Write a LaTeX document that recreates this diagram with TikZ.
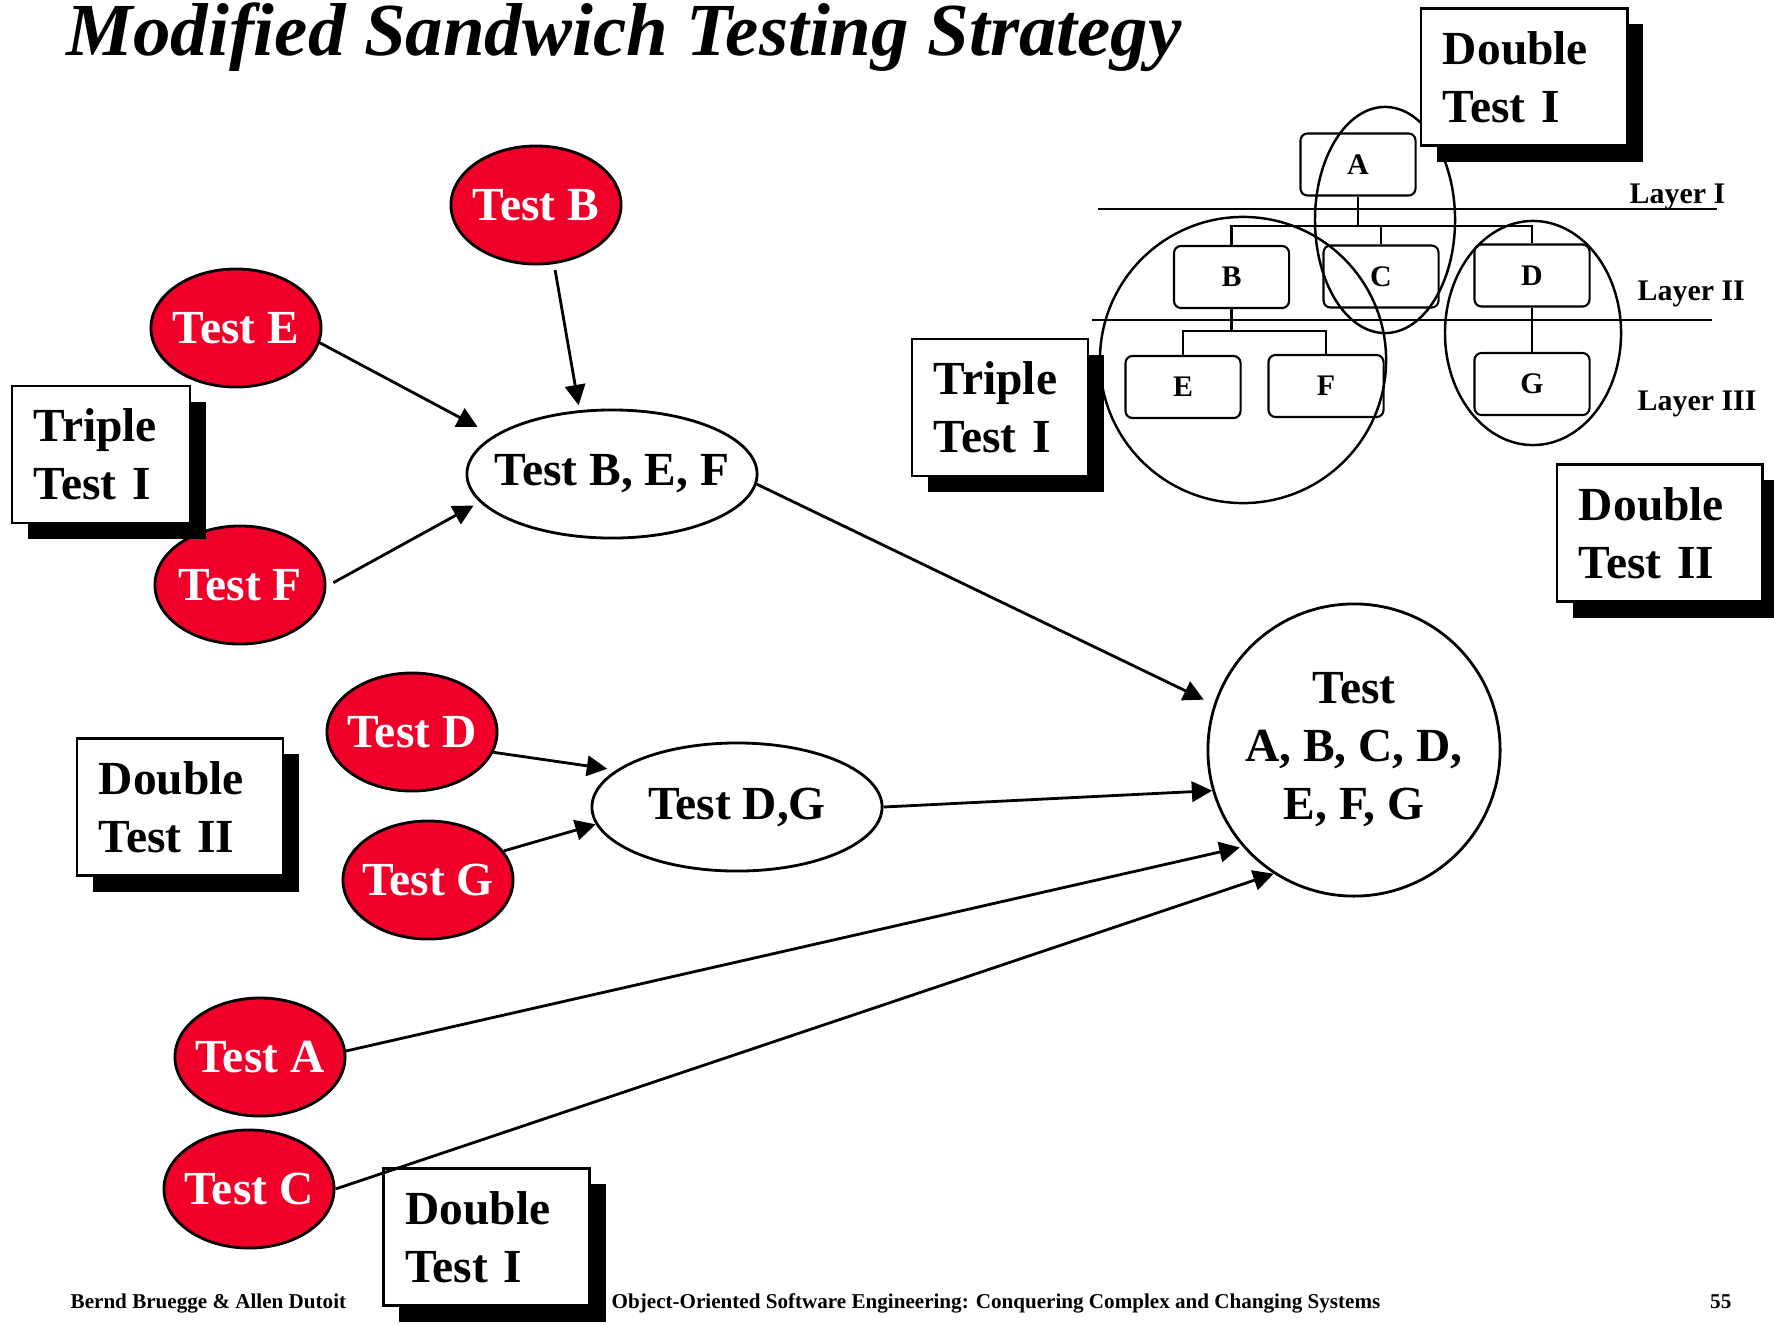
\documentclass[tikz,border=0pt]{standalone}
\usepackage{fontspec}
\setmainfont{Liberation Serif}
\usetikzlibrary{shapes, arrows.meta, positioning, shadows}

\definecolor{testred}{RGB}{240,0,40}
\newcommand{\bigfont}{\bfseries\fontsize{13.5}{16.5}\selectfont}
\newcommand{\smallfont}{\bfseries\fontsize{8.5}{10}\selectfont}

\begin{document}
\begin{tikzpicture}[
  x=0.01cm, y=-0.01cm,
  slim/.style={execute at begin node={\hbox to 0pt\bgroup\hss}, execute at end node={\hss\egroup}},
  redtest/.style={ellipse, draw, fill=testred, line width=0.8pt, minimum width=1.7cm, minimum height=1.18cm, inner sep=0pt, text=white, font=\bigfont, slim},
  combo/.style={ellipse, draw, fill=white, line width=0.8pt, minimum width=2.9cm, minimum height=1.28cm, inner sep=0pt, font=\bigfont, slim},
  allring/.style={circle, draw, line width=0.8pt, minimum size=2.92cm, inner sep=0pt, align=center, font=\bigfont},
  tbox/.style={rectangle, draw, fill=white, line width=0.8pt, inner xsep=0.22cm, minimum height=1.37cm, align=left, text width=#1, font=\bigfont, drop shadow={shadow xshift=0.16cm, shadow yshift=-0.16cm, fill=black, opacity=1}},
  module/.style={rectangle, draw, rounded corners=2pt, line width=0.6pt, minimum width=1.15cm, minimum height=0.62cm, inner sep=0pt, font=\smallfont},
  layer/.style={anchor=base west, inner sep=0pt, font=\smallfont},
  foot/.style={anchor=base west, inner sep=0pt, font=\bfseries\fontsize{6}{7}\selectfont},
  arrow/.style={-{Triangle[length=5.8pt,width=5.8pt]}, line width=0.8pt},
]
\useasboundingbox (0,0) rectangle (1774,1324);

% Title
\node[anchor=base west, inner sep=0pt, font=\bfseries\itshape\fontsize{21.3}{25}\selectfont] (title) at (66,55) {Modified Sandwich Testing Strategy};

% Single tests
\node[redtest] (tB) at (536,205) {Test B};
\node[redtest] (tE) at (236,328) {Test E};
\node[redtest] (tF) at (240,585) {Test F};
\node[redtest] (tD) at (412,732) {Test D};
\node[redtest] (tG) at (428,880) {Test G};
\node[redtest] (tA) at (260,1057) {Test A};
\node[redtest] (tC) at (249,1189) {Test C};

% Combined tests
\node[combo] (tBEF) at (612,474) {Test B, E, F};
\node[combo] (tDG) at (737,807) {Test D,G};
\node[allring] (tAll) at (1354,750) {Test\\A, B, C, D,\\E, F, G};

% Strategy boxes
\node[tbox=1.34cm] (triple1) at (101,454.5) {Triple\\Test I};
\node[tbox=1.62cm] (double2) at (180,807) {Double\\Test II};
\node[tbox=1.62cm] (double1b) at (486.5,1237) {Double\\Test I};

% Layered system
\node[module] (mA) at (1358,164.5) {A};
\node[module] (mB) at (1231.5,277) {B};
\node[module] (mC) at (1381,276.5) {C};
\node[module] (mD) at (1532,275.5) {D};
\node[module] (mE) at (1183,387) {E};
\node[module] (mF) at (1326,386) {F};
\node[module] (mG) at (1532,384) {G};

\coordinate (bus1) at (1358,226);
\coordinate (bus2) at (1231.5,331);
\draw[line width=0.6pt] (mA.south) -- (bus1);
\draw[line width=0.6pt] (mB.north) |- (bus1) -| (mD.north);
\draw[line width=0.6pt] (mC.north) -- (mC.north |- bus1);
\draw[line width=0.6pt] (mB.south) -- (bus2);
\draw[line width=0.6pt] (mE.north) |- (bus2) -| (mF.north);
\draw[line width=0.6pt] (mD.south) -- (mG.north);

\draw[line width=0.8pt] (1098,209) -- (1717,209);
\draw[line width=0.8pt] (1092,320) -- (1712,320);
\node[layer] (l1) at (1629,203) {Layer I};
\node[layer] (l2) at (1637,300) {Layer II};
\node[layer] (l3) at (1637,410) {Layer III};

\draw[line width=0.7pt] (1243,360) ellipse (1.43cm and 1.43cm);
\draw[line width=0.7pt] (1385,220) ellipse (0.70cm and 1.13cm);
\draw[line width=0.7pt] (1533,333) ellipse (0.88cm and 1.12cm);

\node[tbox=1.32cm] (triple1r) at (1000,407.5) {Triple\\Test I};
\node[tbox=1.62cm] (double1t) at (1524,77) {Double\\Test I};
\node[tbox=1.61cm] (double2r) at (1659.5,533) {Double\\Test II};

% Connections
\draw[arrow, shorten >=0.18cm] (tE.-10) -- (tBEF.162);
\draw[arrow, shorten <=0.06cm, shorten >=0.05cm] (tB.-73) -- (tBEF.117);
\draw[arrow, shorten <=0.08cm, shorten >=0.07cm] (tF.-1) -- (tBEF.192);
\draw[arrow, shorten >=0.11cm] (tBEF.-4) -- (tAll.162);
\draw[arrow, shorten >=0.09cm] (tD.-14) -- (tDG.163);
\draw[arrow] (tG.21) -- (tDG.187);
\draw[arrow] (tDG.east) -- (tAll.196);
\draw[arrow, shorten >=0.03cm] (tA.4) -- (tAll.221);
\draw[arrow] (tC.0) -- (tAll.237);

% Footer
\node[foot] (authors) at (70,1308) {Bernd Bruegge \& Allen Dutoit};
\node[foot] (book) at (611,1308) {Object-Oriented Software Engineering: Conquering Complex and Changing Systems};
\node[foot, anchor=base east] (page) at (1732,1308) {55};

\end{tikzpicture}
\end{document}
